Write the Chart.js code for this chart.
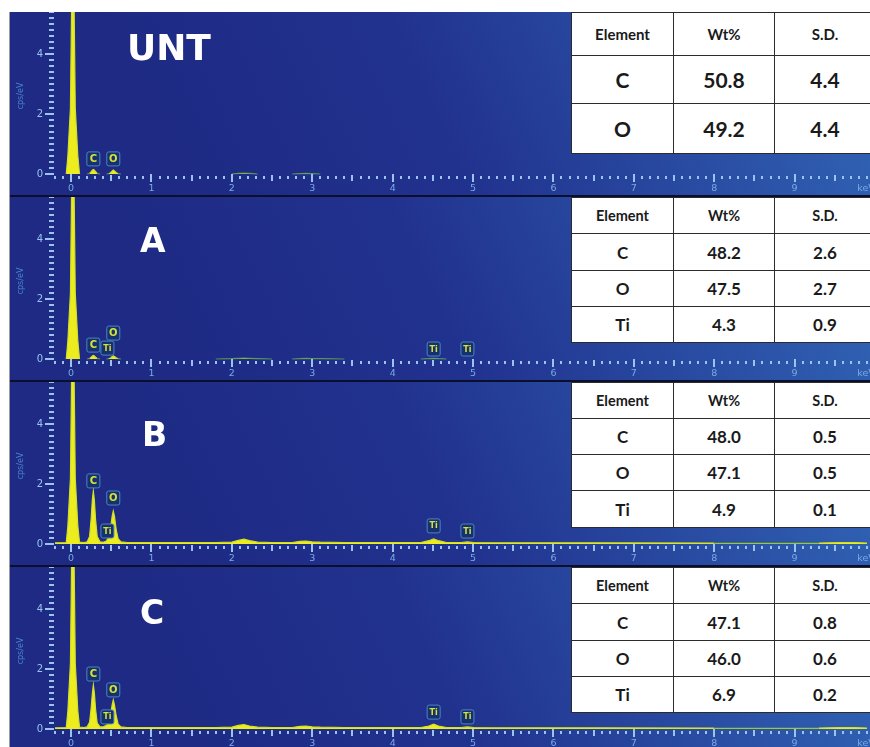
<!DOCTYPE html>
<html>
<head>
<meta charset="utf-8">
<script src="https://cdn.jsdelivr.net/npm/chart.js@4.4.1/dist/chart.umd.min.js"></script>
<style>
  html, body { margin: 0; padding: 0; background: #fff; }
  #fig { position: relative; width: 870px; height: 747px; overflow: hidden; background: #fff; }
  #fig .edge { position: absolute; left: 9px; top: 12px; width: 1px; height: 735px; background: #9a9a9a; }
  .panel { position: absolute; left: 10px; width: 860px; height: 183px; }
  .sep { position: absolute; left: 10px; width: 860px; height: 2px; background: #0a0f2e; }
  table.comp {
    position: absolute; left: 571px; width: 304px; border-collapse: collapse; table-layout: fixed;
    background: #fff; color: #1a1a1a; font-family: Lato, "Open Sans", "Liberation Sans", sans-serif; font-weight: 700;
  }
  table.comp td { border: 1.5px solid #2b2b2b; text-align: center; padding: 0; }
  table.comp td.h { font-size: 14.5px; }
  table.comp td.v { font-size: 17px; }
  table.big td.h { font-size: 15px; }
  table.big td.v { font-size: 21px; }
</style>
</head>
<body>
<div id="fig">
  <div class="edge"></div>
  <canvas id="pUNT" class="panel" width="860" height="183" style="top:12px"></canvas>
  <div class="sep" style="top:195px"></div>
  <canvas id="pA" class="panel" width="860" height="183" style="top:197px"></canvas>
  <div class="sep" style="top:380px"></div>
  <canvas id="pB" class="panel" width="860" height="183" style="top:382px"></canvas>
  <div class="sep" style="top:565px"></div>
  <canvas id="pC" class="panel" width="860" height="183" style="top:567px"></canvas>
</div>
<script>
// EDS spectra (cps/eV versus keV) for the four surfaces
const energyKeV = [
  -0.2, -0.06, -0.04, -0.008, 0.008, 0.022, 0.036, 0.052, 0.084, 0.105,
  0.16, 0.2, 0.23, 0.25, 0.265, 0.277, 0.29, 0.305, 0.325, 0.36,
  0.4, 0.44, 0.47, 0.495, 0.512, 0.525, 0.54, 0.56, 0.585, 0.62,
  0.7, 0.9, 1.3, 1.8, 2.0, 2.08, 2.15, 2.22, 2.32, 2.5,
  2.75, 2.85, 2.92, 3.0, 3.1, 3.4, 4.0, 4.35, 4.45, 4.51,
  4.57, 4.67, 4.85, 4.93, 5.01, 5.3, 6.5, 8.0, 9.3, 9.55,
  9.75, 9.9
];
const countsUNT = [
  0, 0, 0.6, 2.2, 6, 30, 6, 2.2, 0.6, 0,
  0, 0, 0.02, 0.08, 0.13, 0.15, 0.13, 0.08, 0.02, 0,
  0, 0, 0.01, 0.05, 0.1, 0.13, 0.1, 0.05, 0.01, 0,
  0, 0, 0, 0, 0, 0.02, 0.03, 0.02, 0, 0,
  0, 0.01, 0.02, 0.01, 0, 0, 0, 0, 0, 0,
  0, 0, 0, 0, 0, 0, 0, 0, 0, 0,
  0, 0
];
const countsA = [
  0, 0, 0.6, 2.2, 6, 30, 6, 2.2, 0.6, 0,
  0, 0, 0.02, 0.06, 0.1, 0.12, 0.1, 0.06, 0.02, 0,
  0, 0, 0.01, 0.04, 0.08, 0.1, 0.08, 0.04, 0.01, 0,
  0, 0, 0, 0, 0.01, 0.02, 0.03, 0.02, 0.01, 0,
  0, 0.01, 0.02, 0.01, 0.01, 0, 0, 0, 0.01, 0.02,
  0.01, 0, 0, 0, 0, 0, 0, 0, 0, 0,
  0, 0
];
const countsB = [
  0.04, 0.05, 0.6, 2.2, 6, 30, 6, 2.2, 0.6, 0.06,
  0.05, 0.07, 0.25, 0.85, 1.5, 1.77, 1.45, 0.8, 0.25, 0.07,
  0.06, 0.1, 0.25, 0.6, 0.95, 1.1, 0.92, 0.5, 0.18, 0.07,
  0.05, 0.05, 0.05, 0.05, 0.06, 0.12, 0.16, 0.11, 0.06, 0.05,
  0.05, 0.09, 0.1, 0.07, 0.06, 0.05, 0.05, 0.05, 0.11, 0.17,
  0.11, 0.05, 0.05, 0.07, 0.05, 0.04, 0.04, 0.03, 0.03, 0.05,
  0.05, 0.03
];
const countsC = [
  0.04, 0.05, 0.6, 2.2, 6, 30, 6, 2.2, 0.6, 0.06,
  0.05, 0.07, 0.22, 0.7, 1.2, 1.47, 1.2, 0.65, 0.2, 0.07,
  0.07, 0.12, 0.25, 0.55, 0.82, 0.97, 0.8, 0.45, 0.16, 0.07,
  0.05, 0.05, 0.05, 0.05, 0.06, 0.12, 0.15, 0.1, 0.06, 0.05,
  0.05, 0.09, 0.1, 0.07, 0.06, 0.05, 0.05, 0.05, 0.1, 0.16,
  0.1, 0.05, 0.05, 0.07, 0.05, 0.04, 0.04, 0.03, 0.03, 0.05,
  0.05, 0.03
];

// Element line markers: [element, line energy keV, marker base in cps/eV]
const marksUNT = [['C', 0.277, 0.27], ['O', 0.525, 0.27]];
const marksA = [['C', 0.277, 0.23], ['Ti', 0.452, 0.13], ['O', 0.525, 0.63], ['Ti', 4.51, 0.1], ['Ti', 4.93, 0.1]];
const marksB = [['C', 0.277, 1.87], ['O', 0.525, 1.3], ['Ti', 0.452, 0.2], ['Ti', 4.51, 0.37], ['Ti', 4.93, 0.2]];
const marksC = [['C', 0.277, 1.6], ['O', 0.525, 1.07], ['Ti', 0.452, 0.17], ['Ti', 4.51, 0.33], ['Ti', 4.93, 0.17]];

const xTickLabels = ['0', '1', '2', '3', '4', '5', '6', '7', '8', '9'];
const yTickLabels = ['0', '2', '4'];

// Quantification tables
const tableHeader = ['Element', 'Wt%', 'S.D.'];
const compUNT = [['C', '50.8', '4.4'], ['O', '49.2', '4.4']];
const compA = [['C', '48.2', '2.6'], ['O', '47.5', '2.7'], ['Ti', '4.3', '0.9']];
const compB = [['C', '48.0', '0.5'], ['O', '47.1', '0.5'], ['Ti', '4.9', '0.1']];
const compC = [['C', '47.1', '0.8'], ['O', '46.0', '0.6'], ['Ti', '6.9', '0.2']];

const TICK_BLUE = '#9ac4ef';
const LABEL_BLUE = '#79aae4';

// Background, axes, element markers and sample name for one spectrum panel
const edsFrame = {
  id: 'edsFrame',
  beforeDraw(chart) {
    const { ctx, width: W, height: H } = chart;
    ctx.save();
    const g = ctx.createLinearGradient(180, H * 1.1, 780, -H * 0.4);
    g.addColorStop(0, '#1e2a84');
    g.addColorStop(0.4, '#21328e');
    g.addColorStop(0.75, '#2a4ea4');
    g.addColorStop(1, '#3062b4');
    ctx.fillStyle = g;
    ctx.fillRect(0, 0, W, H);
    ctx.restore();
  },
  afterDatasetsDraw(chart, args, opts) {
    const { ctx, scales: { x, y } } = chart;
    const y0 = y.getPixelForValue(0);
    ctx.save();

    // x axis: dotted minor ticks every 0.1 keV, longer at 0.5 and whole keV
    for (let i = -2; i <= 99; i++) {
      const e = i / 10;
      const px = Math.round(x.getPixelForValue(e));
      ctx.fillStyle = TICK_BLUE;
      if (i % 10 === 0) ctx.fillRect(px - 1, y0, 2, 8);
      else if (i % 5 === 0) ctx.fillRect(px - 1, y0 + 1, 2, 6);
      else ctx.fillRect(px - 1, y0 + 2, 2, 3);
    }
    ctx.font = '9.5px "DejaVu Sans", sans-serif';
    ctx.fillStyle = LABEL_BLUE;
    ctx.textAlign = 'center';
    ctx.textBaseline = 'middle';
    xTickLabels.forEach(t => ctx.fillText(t, x.getPixelForValue(Number(t)), y0 + 15));
    ctx.textAlign = 'left';
    ctx.fillText('keV', x.getPixelForValue(9.78), y0 + 15);

    // y axis: dashes every 0.2 cps/eV, labelled every 2
    for (let i = 0; i <= 27; i++) {
      const v = i / 5;
      const py = Math.round(y.getPixelForValue(v));
      ctx.fillStyle = TICK_BLUE;
      if (i % 10 === 0) ctx.fillRect(35, py - 1, 9, 2);
      else ctx.fillRect(39, py - 1, 5, 2);
    }
    ctx.textAlign = 'right';
    ctx.font = '10px "DejaVu Sans", sans-serif';
    yTickLabels.forEach(t => ctx.fillText(t, 33, y.getPixelForValue(Number(t))));

    ctx.save();
    ctx.translate(11, 84);
    ctx.rotate(-Math.PI / 2);
    ctx.textAlign = 'center';
    ctx.font = '8px "DejaVu Sans", sans-serif';
    ctx.fillStyle = '#4a82cc';
    ctx.fillText('cps/eV', 0, 0);
    ctx.restore();

    // element markers
    (opts.marks || []).forEach(([el, e, base]) => {
      const cx = x.getPixelForValue(e);
      const by = y.getPixelForValue(base);
      const w = 13, h = 14;
      ctx.beginPath();
      ctx.roundRect(cx - w / 2, by - h, w, h, 2);
      ctx.fillStyle = '#17316e';
      ctx.fill();
      ctx.lineWidth = 1;
      ctx.strokeStyle = '#4a86c4';
      ctx.stroke();
      ctx.fillStyle = '#d4e23a';
      ctx.textAlign = 'center';
      ctx.textBaseline = 'middle';
      ctx.font = (el.length > 1 ? 'bold 8px' : 'bold 10px') + ' "DejaVu Sans", sans-serif';
      ctx.fillText(el, cx, by - h / 2 + 0.5);
    });

    // sample name
    ctx.fillStyle = '#ffffff';
    ctx.font = 'bold ' + opts.titleSize + 'px "DejaVu Sans", sans-serif';
    ctx.textAlign = 'left';
    ctx.textBaseline = 'middle';
    ctx.fillText(opts.title, opts.titleX, opts.titleY);
    ctx.restore();
  }
};

function spectrum(id, counts, title, marks, titleX, titleY, titleSize) {
  const pts = energyKeV.map((e, i) => ({ x: e, y: counts[i] }));
  new Chart(document.getElementById(id), {
    type: 'line',
    data: {
      datasets: [{
        data: pts,
        fill: 'origin',
        backgroundColor: '#ecec1e',
        borderColor: '#d2e02a',
        borderWidth: 1.2,
        pointRadius: 0,
        tension: 0,
        segment: {
          borderColor: c => {
            const m = Math.max(c.p0.parsed.y, c.p1.parsed.y);
            if (m < 0.005) return 'rgba(0,0,0,0)';
            if (m < 0.035) return 'rgba(96,168,80,0.75)';
            return undefined;
          }
        }
      }]
    },
    options: {
      responsive: false,
      animation: false,
      events: [],
      layout: { padding: { left: 45, right: 3, top: 0, bottom: 18 } },
      scales: {
        x: { type: 'linear', min: -0.2, max: 9.9, display: false },
        y: { type: 'linear', min: -0.1, max: 5.4, display: false }
      },
      plugins: {
        legend: { display: false },
        tooltip: { enabled: false },
        edsFrame: { title, marks, titleX, titleY, titleSize }
      }
    },
    plugins: [edsFrame]
  });
}

spectrum('pUNT', countsUNT, 'UNT', marksUNT, 117, 39, 36);
spectrum('pA', countsA, 'A', marksA, 130, 46, 33);
spectrum('pB', countsB, 'B', marksB, 132, 55, 33);
spectrum('pC', countsC, 'C', marksC, 130, 48, 33);

// composition tables laid over the right side of each panel
function compTable(rows, top, rowHeights, big) {
  const t = document.createElement('table');
  t.className = 'comp' + (big ? ' big' : '');
  t.style.top = top + 'px';
  const cg = document.createElement('colgroup');
  [102, 101, 101].forEach(w => { const c = document.createElement('col'); c.style.width = w + 'px'; cg.appendChild(c); });
  t.appendChild(cg);
  [tableHeader].concat(rows).forEach((r, ri) => {
    const tr = document.createElement('tr');
    tr.style.height = rowHeights[ri] + 'px';
    r.forEach(v => {
      const td = document.createElement('td');
      td.className = ri === 0 ? 'h' : 'v';
      td.textContent = v;
      tr.appendChild(td);
    });
    t.appendChild(tr);
  });
  document.getElementById('fig').appendChild(t);
}
compTable(compUNT, 12, [43, 48, 50], true);
compTable(compA, 197, [36, 37, 36, 36], false);
compTable(compB, 382, [36, 36, 36, 37], false);
compTable(compC, 567, [36, 37, 36, 36], false);
</script>
</body>
</html>
